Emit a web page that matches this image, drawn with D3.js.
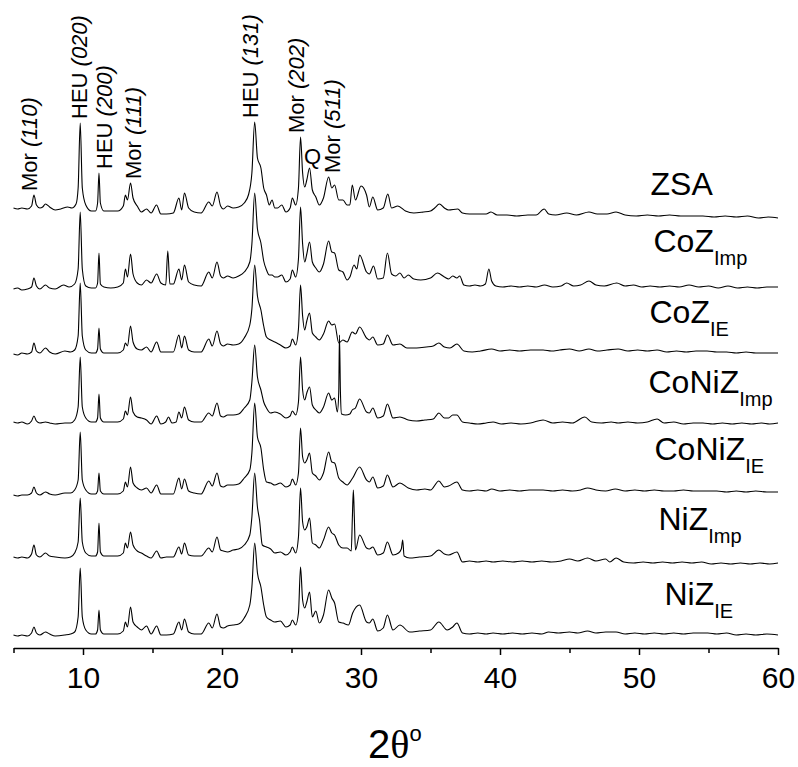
<!DOCTYPE html>
<html>
<head>
<meta charset="utf-8">
<script src="https://cdn.jsdelivr.net/npm/d3@7"></script>
<style>
    body { margin: 0; background: #fff; }
    svg { display: block; font-family: "Liberation Sans", Arial, sans-serif; }
    .trace { fill: none; stroke: #000; stroke-width: 1.1; stroke-linejoin: round; }
    .axis path, .axis line { stroke: #000; stroke-width: 1.5; }
    .axis text { font-size: 30px; fill: #000; font-family: "Liberation Sans", Arial, sans-serif; }
</style>
</head>
<body>
<svg id="graph" width="798" height="767"></svg>
<script>
// 2theta (deg), intensity (a.u., relative to each pattern's own baseline)
var zsa = [[5.0,0],[5.3,-1],[5.6,0],[6.0,-1],[6.3,2],[6.47,13],[6.65,3],[6.9,0],[7.1,1],[7.3,4],[7.6,1],[8.0,-2],[8.4,-1],[8.9,1],[9.2,0],[9.5,4],[9.65,20],[9.8,85],[9.95,20],[10.2,3],[10.6,-3],[10.9,-3],[11.05,5],[11.15,35],[11.25,5],[11.5,-3],[12.0,-3],[12.5,-3],[12.9,2],[13.05,13],[13.2,8],[13.42,25],[13.6,10],[13.9,2],[14.2,-4],[14.57,-1],[14.9,-5],[15.29,3],[15.6,-6],[16.0,-6],[16.5,-5],[16.9,10],[17.1,-2],[17.3,15],[17.6,0],[18.0,-4],[18.5,-5],[19.05,6],[19.3,2],[19.64,16],[19.9,2],[20.1,-1],[20.4,2],[20.8,0],[21.2,1],[21.6,5],[21.9,13],[22.15,35],[22.35,86],[22.55,50],[22.8,40],[23.0,20],[23.2,13],[23.4,3],[23.6,8],[23.8,0],[24.0,0],[24.3,3],[24.6,-4],[24.9,0],[25.06,10],[25.3,3],[25.5,20],[25.65,71],[25.8,35],[25.95,21],[26.1,28],[26.3,40],[26.5,18],[26.75,11],[27.0,3],[27.3,10],[27.67,31],[27.9,20],[28.1,23],[28.4,8],[28.7,8],[29.0,3],[29.2,3],[29.37,23],[29.6,8],[30.0,22],[30.4,13],[30.6,1],[30.85,11],[31.2,-2],[31.6,0],[31.93,14],[32.2,0],[32.65,2],[33.2,-3],[33.8,-5],[34.5,-4],[35.0,-3],[35.3,0],[35.64,4],[36.0,0],[36.3,-2],[36.96,-1],[37.3,-5],[37.8,-6],[38.4,-6],[39.0,-6],[39.35,-4],[39.8,-7],[40.5,-7],[41.2,-8],[42.0,-7],[42.6,-7],[43.18,-1],[43.5,-6],[44.0,-7],[44.8,-5],[45.5,-7],[46.4,-4],[47.0,-6],[47.7,-6],[48.35,-4],[49.0,-7],[49.8,-8],[50.6,-7],[51.4,-8],[52.2,-7],[53.0,-8],[53.8,-8],[54.6,-8],[55.4,-9],[56.2,-8],[57.0,-9],[57.8,-8],[58.6,-10],[59.3,-9],[60.0,-10]];

var cozImp = [[5.0,0],[5.3,1],[5.6,-1],[6.0,0],[6.3,2],[6.47,11],[6.65,3],[6.9,0],[7.3,4],[7.6,1],[8.0,0],[8.6,4],[9.0,2],[9.4,5],[9.65,20],[9.8,77],[9.95,20],[10.2,3],[10.6,1],[10.9,1],[11.05,6],[11.15,36],[11.25,5],[11.5,2],[12.0,1],[12.5,2],[12.9,6],[13.05,20],[13.2,12],[13.42,35],[13.6,15],[13.9,6],[14.2,4],[14.57,9],[14.9,6],[15.3,15],[15.6,6],[15.95,4],[16.1,38],[16.25,5],[16.5,5],[16.9,20],[17.1,9],[17.3,24],[17.6,7],[18.0,4],[18.5,3],[19.05,17],[19.3,11],[19.64,27],[19.9,13],[20.1,11],[20.4,13],[20.8,11],[21.2,13],[21.6,17],[22.0,27],[22.15,45],[22.35,96],[22.55,60],[22.8,46],[23.0,28],[23.2,19],[23.4,14],[23.6,14],[23.8,12],[24.0,12],[24.3,14],[24.6,7],[24.9,10],[25.06,19],[25.3,12],[25.5,30],[25.65,82],[25.8,45],[25.95,27],[26.1,35],[26.3,47],[26.5,27],[26.75,21],[27.0,17],[27.3,25],[27.67,48],[27.9,37],[28.1,36],[28.4,19],[28.7,17],[29.0,9],[29.2,12],[29.5,24],[29.7,20],[29.9,34],[30.4,17],[30.6,15],[30.9,23],[31.2,10],[31.6,11],[31.9,36],[32.2,15],[32.5,13],[32.8,16],[33.1,11],[33.4,14],[33.8,10],[34.3,9],[35.0,11],[35.5,16],[36.0,12],[36.3,10],[36.6,13],[36.9,11],[37.1,13],[37.4,4],[37.8,3],[38.2,4],[38.6,3],[38.95,5],[39.2,20],[39.4,8],[39.7,3],[40.2,2],[40.8,3],[41.4,2],[42.0,3],[42.6,2],[43.2,4],[43.8,2],[44.4,3],[44.8,6],[45.3,3],[45.8,4],[46.4,8],[46.9,4],[47.5,3],[48.4,6],[49.0,3],[49.6,4],[50.2,2],[50.8,3],[51.5,2],[52.2,3],[52.9,2],[53.6,4],[54.3,2],[55.0,3],[55.7,1],[56.4,3],[57.1,1],[57.8,2],[58.5,1],[59.2,2],[60.0,2]];

var cozIE = [[5.0,0],[5.3,-1],[5.6,1],[6.0,0],[6.3,2],[6.47,11],[6.65,3],[6.9,1],[7.3,6],[7.6,2],[8.0,0],[8.7,3],[9.1,2],[9.4,4],[9.65,18],[9.8,71],[9.95,18],[10.2,4],[10.6,1],[10.9,1],[11.05,5],[11.15,26],[11.25,5],[11.5,1],[12.0,1],[12.5,1],[12.9,4],[13.05,11],[13.2,8],[13.42,28],[13.6,12],[13.9,5],[14.2,4],[14.57,7],[14.9,2],[15.3,12],[15.6,2],[16.0,2],[16.5,2],[16.9,19],[17.1,6],[17.3,18],[17.6,4],[18.0,2],[18.5,2],[19.05,15],[19.3,8],[19.64,23],[19.9,10],[20.1,8],[20.4,10],[20.8,9],[21.2,10],[21.6,16],[22.0,29],[22.15,45],[22.35,89],[22.55,58],[22.8,44],[23.0,28],[23.2,17],[23.5,14],[23.8,12],[24.2,9],[24.6,6],[24.9,8],[25.06,15],[25.3,9],[25.5,25],[25.65,69],[25.8,38],[25.95,24],[26.1,33],[26.3,41],[26.5,21],[26.75,17],[27.0,14],[27.3,20],[27.67,33],[27.9,29],[28.1,30],[28.4,11],[28.7,14],[29.0,12],[29.37,22],[29.6,20],[29.9,27],[30.4,16],[30.6,14],[30.85,17],[31.2,9],[31.6,10],[31.9,19],[32.3,9],[32.8,10],[33.3,6],[34.0,6],[34.7,7],[35.2,8],[35.6,11],[36.0,7],[36.4,6],[36.9,10],[37.4,3],[38.0,2],[38.6,3],[39.4,5],[40.0,3],[40.7,4],[41.4,3],[42.2,4],[43.1,4],[43.7,3],[44.3,4],[45.0,5],[45.7,3],[46.4,5],[47.0,3],[47.7,4],[48.5,5],[49.2,3],[49.9,4],[50.6,3],[51.3,4],[52.0,2],[52.7,3],[53.4,2],[54.1,3],[54.9,3],[55.6,2],[56.3,2],[57.0,1],[57.7,2],[58.4,1],[59.2,1],[60.0,1]];

var coniZImp = [[5.0,0],[5.3,-1],[5.6,0],[6.0,-2],[6.3,1],[6.47,6],[6.65,1],[6.9,-1],[7.3,0],[7.6,-1],[8.0,-2],[8.7,-1],[9.1,-1],[9.4,2],[9.65,15],[9.8,65],[9.95,15],[10.2,4],[10.6,0],[10.9,0],[11.05,4],[11.15,28],[11.25,4],[11.5,0],[12.0,0],[12.5,0],[12.9,3],[13.05,11],[13.2,7],[13.42,25],[13.6,10],[13.9,5],[14.2,4],[14.57,2],[14.9,-2],[15.3,6],[15.6,-2],[15.95,0],[16.15,5],[16.4,-1],[16.7,0],[16.9,10],[17.1,4],[17.3,15],[17.6,2],[18.0,0],[18.5,0],[19.05,9],[19.3,6],[19.64,19],[19.9,6],[20.1,5],[20.4,7],[20.8,7],[21.2,8],[21.6,14],[22.0,22],[22.15,40],[22.35,77],[22.55,45],[22.8,32],[23.0,20],[23.2,14],[23.5,9],[23.8,10],[24.2,8],[24.6,4],[24.9,6],[25.06,11],[25.3,7],[25.5,20],[25.65,65],[25.8,32],[25.95,22],[26.1,29],[26.3,35],[26.5,17],[26.75,12],[27.0,9],[27.3,15],[27.67,29],[27.9,22],[28.1,24],[28.3,10],[28.4,30],[28.45,87],[28.52,30],[28.6,8],[28.9,7],[29.2,8],[29.37,12],[29.6,14],[29.9,23],[30.4,10],[30.6,9],[30.85,14],[31.2,4],[31.6,6],[31.9,18],[32.3,4],[32.8,5],[33.4,2],[34.0,1],[34.6,2],[35.2,3],[35.6,9],[36.0,4],[36.3,4],[36.6,7],[36.9,7],[37.3,0],[37.8,-1],[38.4,-2],[39.0,-1],[39.5,0],[40.1,-2],[40.8,-1],[41.5,-2],[42.2,-1],[43.1,2],[43.8,-1],[44.5,0],[45.2,-1],[46.1,5],[46.6,0],[47.3,-1],[48.0,0],[48.5,-1],[49.2,0],[49.9,-1],[50.6,0],[51.3,3],[51.8,-1],[52.5,0],[53.2,-2],[53.9,-1],[54.6,-1],[55.3,-2],[56.0,-1],[56.7,-2],[57.4,-1],[58.1,-2],[58.8,-1],[59.4,-2],[60.0,-1]];

var coniZIE = [[5.0,0],[5.3,-1],[5.6,0],[6.0,0],[6.3,2],[6.47,8],[6.65,2],[6.9,0],[7.3,3],[7.6,1],[8.0,0],[8.7,2],[9.1,2],[9.4,5],[9.65,15],[9.8,63],[9.95,15],[10.2,5],[10.6,1],[10.9,1],[11.05,4],[11.15,22],[11.25,4],[11.5,1],[12.0,1],[12.5,1],[12.9,4],[13.05,13],[13.2,8],[13.42,28],[13.6,12],[13.9,7],[14.2,5],[14.57,7],[14.9,2],[15.3,10],[15.6,1],[16.0,1],[16.5,1],[16.9,17],[17.1,6],[17.3,16],[17.6,4],[18.0,2],[18.5,1],[19.05,14],[19.3,9],[19.64,22],[19.9,9],[20.1,8],[20.4,10],[20.8,10],[21.2,11],[21.6,17],[22.0,25],[22.15,42],[22.35,92],[22.55,58],[22.8,47],[23.0,25],[23.2,13],[23.5,12],[23.8,10],[24.2,12],[24.6,8],[24.9,10],[25.06,16],[25.3,10],[25.5,22],[25.65,67],[25.8,38],[25.95,32],[26.1,35],[26.3,42],[26.5,22],[26.75,19],[27.0,15],[27.3,22],[27.67,43],[27.9,33],[28.1,32],[28.4,17],[28.7,13],[29.0,10],[29.4,17],[29.9,28],[30.4,15],[30.6,13],[30.85,18],[31.2,7],[31.6,9],[31.9,20],[32.3,8],[32.8,12],[33.4,7],[34.0,5],[34.6,6],[35.0,5],[35.6,14],[36.0,8],[36.3,9],[36.9,13],[37.3,5],[37.8,4],[38.4,5],[39.0,4],[39.4,6],[40.0,4],[40.7,5],[41.4,4],[42.1,5],[43.1,5],[43.8,4],[44.5,5],[45.2,4],[45.8,5],[46.3,7],[46.9,5],[47.6,4],[48.3,6],[49.0,4],[49.7,5],[50.4,4],[51.1,5],[51.8,4],[52.5,4],[53.2,5],[53.9,4],[54.9,4],[55.6,4],[56.3,3],[57.0,4],[57.7,3],[58.4,4],[59.2,3],[60.0,3]];

var nizImp = [[5.0,0],[5.3,-1],[5.6,0],[6.0,-1],[6.3,3],[6.47,12],[6.65,2],[6.9,0],[7.3,4],[7.6,1],[8.0,0],[8.7,-1],[9.1,0],[9.4,4],[9.65,15],[9.8,59],[9.95,15],[10.2,4],[10.6,1],[10.9,1],[11.05,5],[11.15,34],[11.25,5],[11.5,1],[12.0,1],[12.5,1],[12.9,4],[13.05,14],[13.2,9],[13.42,25],[13.6,12],[13.9,6],[14.2,4],[14.57,1],[14.9,-1],[15.3,6],[15.6,-1],[16.0,0],[16.5,0],[16.9,10],[17.1,3],[17.3,14],[17.6,2],[18.0,1],[18.5,1],[19.05,9],[19.3,5],[19.64,20],[19.9,7],[20.1,6],[20.4,5],[20.8,7],[21.2,8],[21.6,12],[22.0,22],[22.15,40],[22.35,84],[22.55,50],[22.7,37],[22.9,12],[23.2,10],[23.5,8],[23.8,4],[24.2,5],[24.6,2],[24.9,5],[25.06,10],[25.3,4],[25.5,20],[25.65,69],[25.8,35],[25.95,27],[26.1,30],[26.3,39],[26.5,14],[26.75,12],[27.0,9],[27.3,17],[27.67,30],[27.9,24],[28.1,22],[28.4,12],[28.7,9],[29.0,9],[29.3,6],[29.38,40],[29.45,67],[29.52,40],[29.6,7],[29.9,22],[30.4,9],[30.6,8],[30.85,10],[31.2,2],[31.6,4],[31.9,15],[32.3,2],[32.7,4],[32.9,8],[33.0,17],[33.1,1],[33.5,-1],[34.2,0],[35.0,1],[35.6,7],[36.0,3],[36.3,2],[36.9,5],[37.3,-5],[37.8,-4],[38.4,-5],[39.0,-4],[39.5,-5],[40.2,-4],[40.9,-5],[41.6,-4],[42.3,-5],[43.0,-4],[43.7,-5],[44.4,-4],[45.0,-2],[45.6,-4],[46.3,-1],[46.9,-4],[47.6,-2],[47.9,-5],[48.35,-1],[48.9,-5],[49.6,-6],[50.3,-5],[51.0,-6],[51.7,-5],[52.4,-6],[53.1,-5],[53.8,-6],[54.5,-5],[55.2,-7],[55.9,-6],[56.6,-7],[57.3,-6],[58.0,-7],[58.7,-6],[59.4,-7],[60.0,-6]];

var nizIE = [[5.0,0],[5.3,-1],[5.6,0],[6.0,-1],[6.3,2],[6.47,8],[6.65,2],[6.9,0],[7.3,3],[7.6,1],[8.0,-1],[8.7,0],[9.1,1],[9.4,3],[9.65,18],[9.8,67],[9.95,18],[10.2,5],[10.6,1],[10.9,1],[11.05,5],[11.15,25],[11.25,5],[11.5,1],[12.0,1],[12.5,1],[12.9,4],[13.05,13],[13.2,8],[13.42,28],[13.6,13],[13.9,8],[14.2,5],[14.57,9],[14.9,1],[15.3,9],[15.6,0],[16.0,0],[16.5,1],[16.9,13],[17.1,5],[17.3,16],[17.6,3],[18.0,1],[18.5,1],[19.05,12],[19.3,7],[19.64,21],[19.9,8],[20.1,7],[20.4,9],[20.8,10],[21.2,11],[21.6,17],[22.0,30],[22.15,48],[22.35,92],[22.55,62],[22.8,48],[23.0,30],[23.2,18],[23.5,15],[23.8,13],[24.2,14],[24.6,8],[24.9,10],[25.06,15],[25.3,10],[25.5,22],[25.65,68],[25.8,35],[25.95,27],[26.1,33],[26.3,43],[26.5,18],[26.75,24],[27.0,12],[27.3,20],[27.67,45],[27.9,37],[28.1,32],[28.4,13],[28.7,12],[29.1,10],[29.4,22],[29.9,30],[30.4,13],[30.6,12],[30.85,16],[31.2,4],[31.6,7],[31.9,20],[32.3,5],[32.8,10],[33.5,3],[34.2,4],[35.0,5],[35.6,13],[36.2,5],[36.6,8],[36.9,12],[37.3,2],[37.8,1],[38.4,2],[39.0,1],[39.5,2],[40.2,1],[40.9,2],[41.6,1],[42.3,2],[43.0,1],[43.5,3],[44.2,2],[45.0,3],[45.6,2],[46.3,4],[46.9,2],[47.6,3],[48.35,3],[49.0,1],[49.7,2],[50.4,1],[51.1,2],[51.8,1],[52.5,2],[53.2,1],[53.9,2],[54.95,2],[55.6,1],[56.3,2],[57.0,0],[57.7,1],[58.4,0],[59.2,1],[60.0,0]];

// vertical stacking offsets (a.u.), top to bottom
var offsets = [440, 359, 294, 226, 153, 91, 13];
var sampleNames = ["ZSA", "CoZ", "CoZ", "CoNiZ", "CoNiZ", "NiZ", "NiZ"];
var sampleSubs = ["", "Imp", "IE", "Imp", "IE", "Imp", "IE"];

// reflections marked on the ZSA pattern
var peakPhase = ["Mor", "HEU", "HEU", "Mor", "HEU", "Mor", "Q", "Mor"];
var peakHkl = ["(110)", "(020)", "(200)", "(111)", "(131)", "(202)", "", "(511)"];
var peakPos = [6.47, 9.8, 11.15, 13.42, 22.35, 25.65, 26.3, 27.67];

var xTicks = [10, 20, 30, 40, 50, 60];
var xMinorTicks = [5, 15, 25, 35, 45, 55];

var graph = (function () {
    function create() {
        var svg = d3.select("svg#graph"),
            margin = {top: 8, left: 13.5, bottom: 119, right: 20},
            width = 798 - margin.left - margin.right,
            height = 767 - margin.top - margin.bottom;

        var series = [zsa, cozImp, cozIE, coniZImp, coniZIE, nizImp, nizIE];

        var x = d3.scaleLinear().domain([5, 60]).range([0, width]);
        var y = d3.scaleLinear().domain([0, 640]).range([height, 0]);

        var g = svg.append("g")
            .attr("transform", "translate(" + margin.left + "," + margin.top + ")");

        // traces
        series.forEach(function (s, i) {
            var line = d3.line()
                .x(function (d) { return x(d[0]); })
                .y(function (d) { return y(d[1] + offsets[i]); })
                .curve(d3.curveMonotoneX);
            g.append("path")
                .attr("class", "trace")
                .attr("d", line(s));
        });

        // axis
        var xAxis = d3.axisBottom(x).tickValues(xTicks).tickSize(7).tickSizeOuter(0).tickPadding(12),
            xMinor = d3.axisBottom(x).tickValues(xMinorTicks).tickSize(5).tickSizeOuter(0).tickFormat("");

        g.append("g")
            .attr("class", "x axis")
            .attr("transform", "translate(0," + height + ")")
            .call(xAxis);
        g.append("g")
            .attr("class", "x axis minor")
            .attr("transform", "translate(0," + height + ")")
            .call(xMinor)
            .select(".domain").remove();

        g.append("text")
            .attr("x", 354.5)
            .attr("y", height + 110)
            .attr("font-size", 40)
            .text("2")
            .append("tspan")
            .attr("font-family", "Liberation Serif, Times New Roman, serif")
            .text("θ")
            .append("tspan")
            .attr("font-family", "Liberation Sans, Arial, sans-serif")
            .attr("font-size", 22)
            .attr("dy", -17)
            .text("o");

        // peak labels
        var labelDx = [3, 6.5, 13.5, 10, 3, 3.5, 0, 11];
        peakPos.forEach(function (p, i) {
            var top = d3.max(zsa.filter(function (d) { return Math.abs(d[0] - p) < 0.1; }),
                function (d) { return d[1]; });
            var px = x(p) + labelDx[i],
                py = y(top + offsets[0]) - 4;
            if (peakHkl[i] === "") {
                g.append("text")
                    .attr("x", px + 3)
                    .attr("y", py)
                    .attr("text-anchor", "middle")
                    .attr("font-size", 22)
                    .text(peakPhase[i]);
                return;
            }
            var t = g.append("text")
                .attr("transform", "translate(" + px + "," + py + ") rotate(-90)")
                .attr("font-size", 22);
            t.append("tspan").text(peakPhase[i] + " ");
            t.append("tspan").attr("font-style", "italic").text(peakHkl[i]);
        });

        // sample names
        var nameDx = [-1, 2, -2, -3, 3, 7, 13],
            nameDy = [-23, -35, -30, -30, -32, -33, -30];
        sampleNames.forEach(function (n, i) {
            var s = series[i],
                last = s[s.length - 1];
            var t = g.append("text")
                .attr("x", x(50.9) + nameDx[i])
                .attr("y", y(last[1] + offsets[i]) + nameDy[i])
                .attr("font-size", 32)
                .text(n);
            if (sampleSubs[i]) {
                t.append("tspan")
                    .attr("font-size", 20)
                    .attr("dy", 13)
                    .text(sampleSubs[i]);
            }
        });
    }

    return {create: create};
})();

graph.create();
</script>
</body>
</html>
